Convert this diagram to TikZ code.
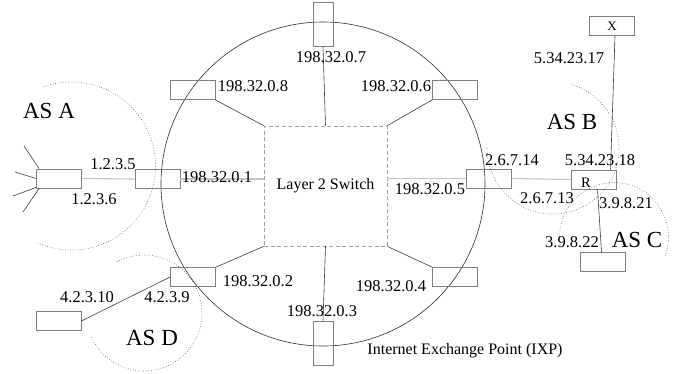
\documentclass[tikz,border=0pt]{standalone}
\usepackage{fontspec}
\setmainfont{Liberation Serif}
\usetikzlibrary{calc}

\definecolor{boxgray}{HTML}{808080}
\definecolor{linkgray}{HTML}{3C3C3C}
\definecolor{langray}{HTML}{C4C4C4}
\definecolor{dotgray}{HTML}{505050}
\definecolor{ringgray}{HTML}{303030}
\definecolor{swgray}{HTML}{A0A0A0}

\tikzset{
  rtr/.style={draw=boxgray, line width=0.7pt, minimum width=45pt, minimum height=19pt, inner sep=0pt},
  vrtr/.style={rtr, minimum width=20pt, minimum height=44pt},
  ip/.style={font=\fontsize{16.5}{18}\selectfont, inner sep=0pt},
  aslbl/.style={font=\fontsize{23}{26}\selectfont, inner sep=0pt},
  small/.style={font=\fontsize{13}{14}\selectfont, inner sep=0pt},
  link/.style={draw=linkgray, line width=0.6pt},
  lan/.style={draw=langray, line width=1.1pt},
  asline/.style={draw=dotgray, dotted, line width=0.6pt}
}

\begin{document}
\begin{tikzpicture}[x=1pt, y=1pt]
      \useasboundingbox (0,0) rectangle (685,-373);

      \coordinate (ixpc) at (323,-184);
      \draw[ringgray, line width=0.6pt] (ixpc) circle[radius=162];

      \node[draw=swgray, dash pattern=on 4pt off 2.5pt, line width=0.8pt,
            minimum width=123pt, minimum height=120pt, font=\fontsize{16}{18}\selectfont]
            (sw) at (325.5,-186) {Layer 2 Switch};

      \node[vrtr] (r7) at (323,-24) {};
      \node[rtr] (r8) at (192.5,-90) {};
      \node[rtr] (r6) at (455,-90) {};
      \node[rtr] (r1) at (157.5,-179) {};
      \node[rtr] (r5) at (489,-178.5) {};
      \node[rtr] (r2) at (193,-277) {};
      \node[rtr] (r4) at (455,-277) {};
      \node[vrtr] (r3) at (323,-343) {};

      \node[rtr] (ra) at (59,-178.5) {};
      \node[rtr] (rr) at (593.5,-179.5) {};
      \node[rtr, small] (rx) at (612,-26) {X};
      \node[rtr] (rc) at (602.5,-262) {};
      \node[rtr] (rd) at (58.5,-321) {};

      \draw[link] (sw.north) -- (r7.south);
      \draw[link] (r8.south east) -- (sw.north west);
      \draw[link] (r6.south west) -- (sw.north east);
      \draw[link] (r2.north east) -- (sw.south west);
      \draw[link] (r4.north west) -- (sw.south east);
      \draw[link] (sw.south) -- (r3.north);

      \draw[lan] (r1.east) -- (r1.east -| sw.west);
      \draw[lan] (sw.east |- r5.west) -- (r5.west);
      \draw[lan] (ra.east) -- (r1.west);
      \draw[lan] (r5.east) -- (rr.west);

      \draw[link] (r2.west) -- (rd.east);
      \draw[link] ([xshift=3pt]rx.south) -- ([xshift=17pt]rr.north);
      \draw[link] ([xshift=4pt]rr.south) -- ([xshift=-1pt]rc.north);

      \coordinate (sp1) at (24,-146);
      \coordinate (sp2) at (15,-172);
      \coordinate (sp3) at (13,-196);
      \coordinate (sp4) at (23,-212);
      \draw[link] ([xshift=3pt]ra.north west) -- (sp1);
      \draw[link] (ra.west) -- (sp2);
      \draw[link] ([yshift=1pt]ra.south west) -- (sp3);
      \draw[link] ([xshift=3pt]ra.south west) -- (sp4);

      \coordinate (asac) at (71.5,-166);
      \coordinate (asbc) at (553,-148);
      \coordinate (ascc) at (614,-237);
      \coordinate (asdc) at (144,-313);
      \draw[asline] (asac) ++(110:84) arc[start angle=110, end angle=-114, radius=84];
      \draw[asline] (asbc) ++(-180:66) arc[start angle=-180, end angle=74, radius=66];
      \draw[asline] (ascc) ++(188:54.5) arc[start angle=188, end angle=-22, radius=54.5];
      \draw[asline] (asdc) ++(-155:58) arc[start angle=-155, end angle=118, radius=58];

      \node[ip] (l7) at (331,-57) {198.32.0.7};
      \node[ip] (l8) at (253,-86) {198.32.0.8};
      \node[ip] (l6) at (396,-86) {198.32.0.6};
      \node[ip] (l1) at (217,-177) {198.32.0.1};
      \node[ip] (l5) at (430,-189) {198.32.0.5};
      \node[ip] (l2) at (258,-281) {198.32.0.2};
      \node[ip] (l4) at (391,-286) {198.32.0.4};
      \node[ip] (l3) at (322,-311) {198.32.0.3};

      \node[ip] (la5) at (113,-164) {1.2.3.5};
      \node[ip] (la6) at (94,-199) {1.2.3.6};
      \node[ip] (lb14) at (512,-160) {2.6.7.14};
      \node[ip] (lb18) at (600,-160) {5.34.23.18};
      \node[ip] (lb13) at (547,-198) {2.6.7.13};
      \node[ip] (lc21) at (626,-203) {3.9.8.21};
      \node[ip] (lc22) at (572,-242) {3.9.8.22};
      \node[ip] (lx17) at (569,-58) {5.34.23.17};
      \node[ip] (ld10) at (87,-297) {4.2.3.10};
      \node[ip] (ld9) at (167,-297) {4.2.3.9};
      \node[font=\fontsize{14.5}{16}\selectfont, inner sep=0pt] (lr) at (586,-183) {R};

      \node[aslbl] (asa) at (49,-111) {AS A};
      \node[aslbl] (asb) at (572,-122) {AS B};
      \node[aslbl] (asc) at (637,-240) {AS C};
      \node[aslbl] (asd) at (152,-338) {AS D};

      \node[font=\fontsize{16}{18}\selectfont, inner sep=0pt] (ixp) at (465,-351) {Internet Exchange Point (IXP)};

    \end{tikzpicture}
\end{document}
